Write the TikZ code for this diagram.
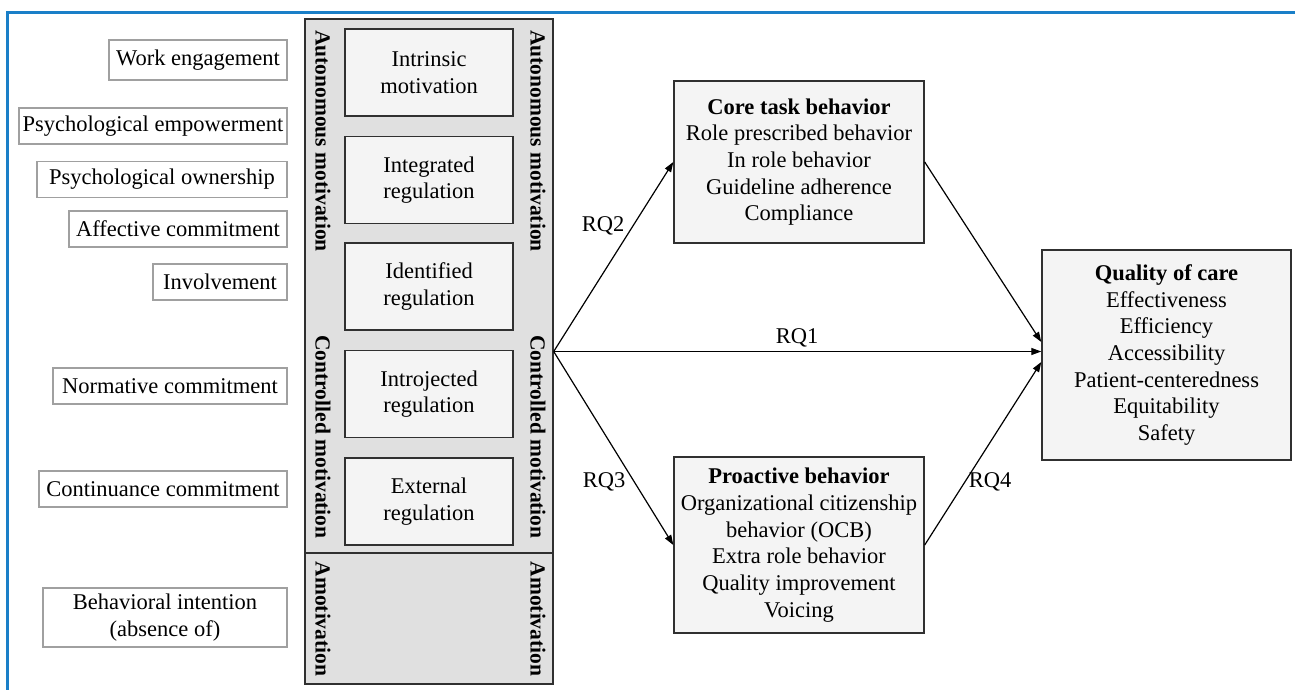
\documentclass[tikz,border=0pt]{standalone}
\usepackage{fontspec}
\setmainfont{Liberation Serif}[BoldFont={Liberation Serif Bold}]
\newfontfamily\tmsfont{Liberation Serif}[BoldFont={Liberation Serif Bold}]
\usetikzlibrary{arrows.meta,calc}
\definecolor{bluefr}{HTML}{1A7FC8}
\definecolor{biggray}{HTML}{E0E0E0}
\definecolor{innerfill}{HTML}{F4F4F4}
\definecolor{leftedge}{HTML}{A0A0A0}
\definecolor{darkedge}{HTML}{303030}
\tikzset{
  txt/.style={font=\tmsfont\fontsize{22.5}{26.7}\selectfont},
  leftbox/.style={txt, draw=leftedge, line width=1.3pt, fill=white, inner sep=0pt, minimum height=36pt, align=center},
  innerbox/.style={txt, draw=darkedge, line width=1.4pt, fill=innerfill, minimum width=168pt, minimum height=87pt, inner sep=0pt, align=center},
  rightbox/.style={txt, draw=darkedge, line width=1.4pt, fill=innerfill, inner sep=0pt, align=center},
  vtext/.style={font=\tmsfont\fontsize{21.5}{26.7}\selectfont\bfseries, rotate=-90, inner sep=0pt},
  conn/.style={line width=1.2pt, -{Triangle[length=10pt,width=7pt]}},
  rq/.style={txt, inner sep=0pt}
}
\begin{document}
\begin{tikzpicture}[x=1pt,y=-1pt]
\useasboundingbox (0,0) rectangle (1295,690);
% blue frame
\coordinate (fBL) at (7,690);
\coordinate (fTL) at (7,13);
\coordinate (fTR) at (1295,13);
\draw[bluefr, line width=3pt, line join=miter] (fBL) -- (fTL) -- (fTR);

% left boxes
\node[leftbox, minimum width=178pt, minimum height=40pt] (we) at (198,60) {Work engagement};
\node[leftbox, minimum width=268pt] (pe) at (153,126) {Psychological empowerment};
\node[leftbox, minimum width=250pt] (po) at (162,179.5) {Psychological ownership};
\node[leftbox, minimum width=218pt] (ac) at (178,229) {Affective commitment};
\node[leftbox, minimum width=134pt] (inv) at (220,282) {Involvement};
\node[leftbox, minimum width=234pt] (nc) at (170,386) {Normative commitment};
\node[leftbox, minimum width=248pt] (cc) at (163,489) {Continuance commitment};
\node[leftbox, minimum width=244pt, minimum height=59pt] (bi) at (165,617.5) {Behavioral intention\\(absence of)};

% big motivation box
\node[draw=darkedge, line width=1.4pt, fill=biggray, minimum width=248pt, minimum height=665pt, inner sep=0pt] (big) at (429,351.5) {};
\coordinate (dl) at (305,553);
\coordinate (dr) at (553,553);
\draw[darkedge, line width=1.4pt] (dl) -- (dr);

\node[innerbox] (im) at (429,72.5) {Intrinsic\\motivation};
\node[innerbox] (ig) at (429,180) {Integrated\\regulation};
\node[innerbox] (id) at (429,286.5) {Identified\\regulation};
\node[innerbox] (ij) at (429,394) {Introjected\\regulation};
\node[innerbox] (ex) at (429,501.5) {External\\regulation};

\node[vtext] (aL) at (323,141) {Autonomous motivation};
\node[vtext] (aR) at (538,141) {Autonomous motivation};
\node[vtext] (cL) at (323,437) {Controlled motivation};
\node[vtext] (cR) at (538,437) {Controlled motivation};
\node[vtext] (mL) at (323,619) {Amotivation};
\node[vtext] (mR) at (538,619) {Amotivation};

% right boxes
\node[rightbox, minimum width=250pt, minimum height=162pt] (core) at (799,162)
  {\textbf{Core task behavior}\\Role prescribed behavior\\In role behavior\\Guideline adherence\\Compliance};
\node[rightbox, minimum width=250pt, minimum height=176pt] (pro) at (799,545)
  {\textbf{Proactive behavior}\\Organizational citizenship\\behavior (OCB)\\Extra role behavior\\Quality improvement\\Voicing};
\node[rightbox, minimum width=249pt, minimum height=210pt] (qual) at (1166.5,355)
  {\textbf{Quality of care}\\Effectiveness\\Efficiency\\Accessibility\\Patient-centeredness\\Equitability\\Safety};

% connectors
\draw[conn] (big.east) -- (core.west);
\draw[conn] (big.east) -- (big.east -| qual.west);
\draw[conn] (big.east) -- (pro.west);
\draw[conn] (core.east) -- ($(qual.west)+(0,-13)$);
\draw[conn] (pro.east) -- ($(qual.west)+(0,7)$);

% labels
\node[rq] (rq2) at (603,226) {RQ2};
\node[rq] (rq1) at (797,338) {RQ1};
\node[rq] (rq3) at (604,482) {RQ3};
\node[rq] (rq4) at (990,482) {RQ4};
\end{tikzpicture}
\end{document}
